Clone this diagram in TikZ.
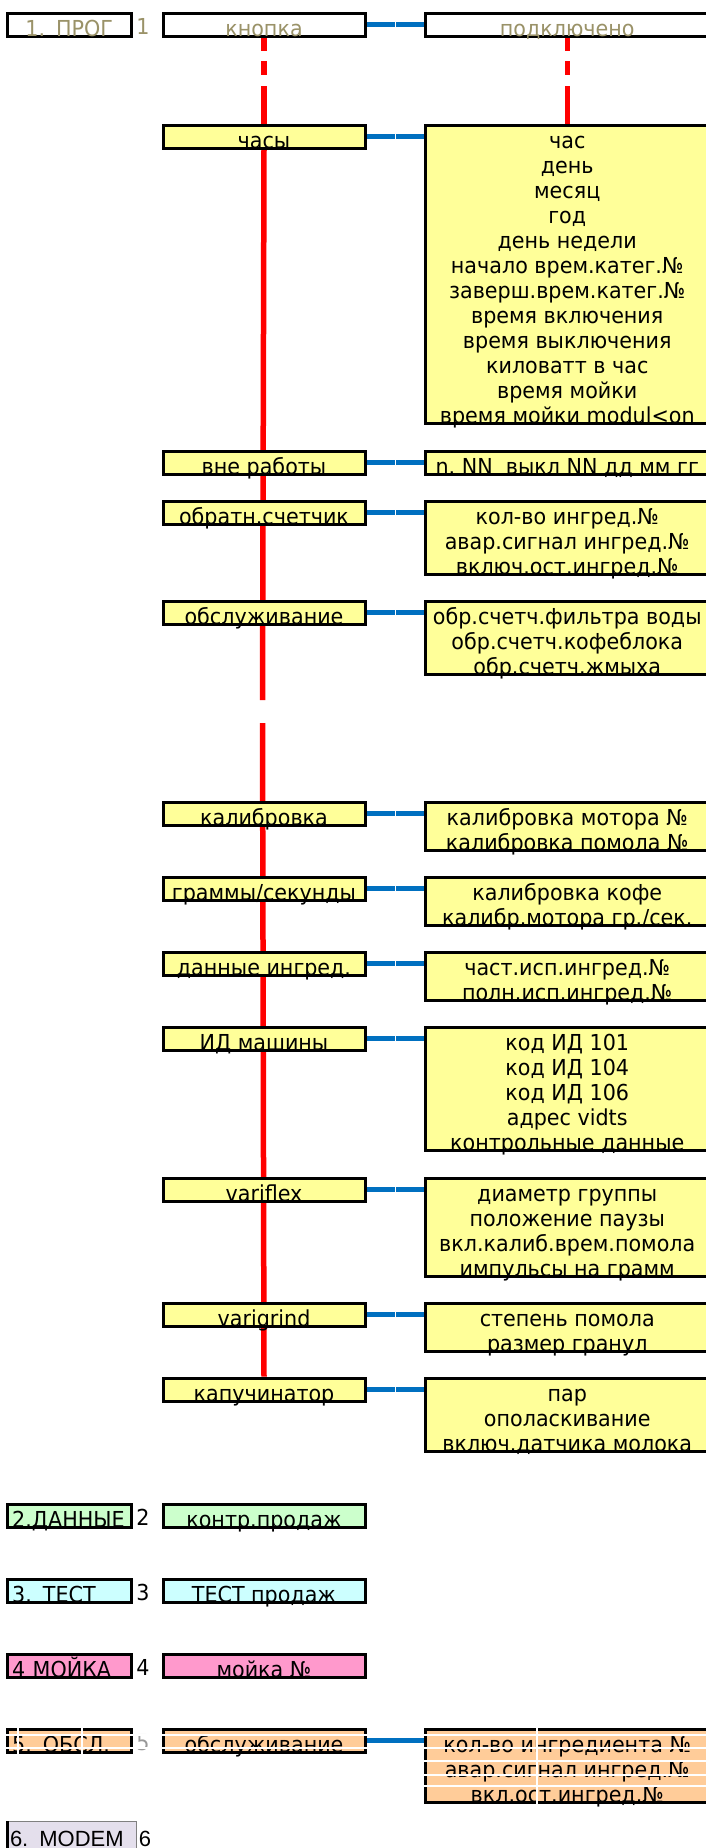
\documentclass[tikz,border=0pt]{standalone}
\usepackage{fontspec}
\setmainfont[FakeStretch=0.94]{DejaVu Sans}
\newfontfamily\modemfont{Liberation Sans}
\usepackage{tikz}
\usetikzlibrary{backgrounds, calc}
\definecolor{menuyellow}{HTML}{FFFF99}
\definecolor{dimtext}{HTML}{9A9268}
\definecolor{datagreen}{HTML}{CCFFCC}
\definecolor{testcyan}{HTML}{CCFFFF}
\definecolor{washpink}{HTML}{FF99CC}
\definecolor{servpeach}{HTML}{FFCC99}
\definecolor{modemlilac}{HTML}{E4DFEC}
\definecolor{linkblue}{HTML}{0070C0}
\definecolor{spinered}{HTML}{FF0000}
\newcommand\cellfont{\fontsize{22}{25}\selectfont}

\begin{document}
\begin{tikzpicture}[
    x=1pt, y=-1pt,
    cell/.style={rectangle, draw=black, line width=3pt, anchor=north west, inner xsep=0pt, inner ysep=0pt, text height=23pt, text depth=0pt, align=center, font=\cellfont},
    menu/.style={cell, minimum width=202pt, fill=menuyellow},
    info/.style={cell, minimum width=284.5pt, fill=menuyellow},
    mode/.style={cell, minimum width=124.5pt, text width=114pt, align=left},
    num/.style={anchor=base, inner sep=0pt, font=\cellfont},
    link/.style={draw=linkblue, line width=5pt, dash pattern=on 28pt off 1.5pt on 40pt},
    spine/.style={draw=spinered, line width=5.5pt},
    gridgap/.style={draw=white, line width=2pt},
]
    \useasboundingbox (0,0) rectangle (706,1848);

    % 1. PROG
    \node[mode, align=center, fill=white, text=dimtext] (prog) at (5.5,11.5) {1. ПРОГ};
    \node[num, text=dimtext] (n1) at (143,34.5) {1};
    \node[menu, fill=white, text=dimtext] (knopka) at (161.5,11.5) {кнопка};
    \node[info, fill=white, text=dimtext] (podkl) at (423.5,11.5) {подключено};

    \node[menu] (chasy) at (161.5,123.5) {часы};
    \node[info, text height=298pt] (chasyinfo) at (423.5,123.5) {час\\день\\месяц\\год\\день недели\\начало врем.катег.№\\заверш.врем.катег.№\\время включения\\время выключения\\киловатт в час\\время мойки\\время мойки modul<on};

    \node[menu] (vne) at (161.5,449.5) {вне работы};
    \node[info] (vneinfo) at (423.5,449.5) {n.\ NN\ \ выкл NN дд мм гг};

    \node[menu] (obrat) at (161.5,499.5) {обратн.счетчик};
    \node[info, text height=73pt] (obratinfo) at (423.5,499.5) {кол-во ингред.№\\авар.сигнал ингред.№\\включ.ост.ингред.№};

    \node[menu] (obsl) at (161.5,599.5) {обслуживание};
    \node[info, text height=73pt] (obslinfo) at (423.5,599.5) {обр.счетч.фильтра воды\\обр.счетч.кофеблока\\обр.счетч.жмыха};

    \node[menu] (kalib) at (161.5,800.5) {калибровка};
    \node[info, text height=48pt] (kalibinfo) at (423.5,800.5) {калибровка мотора №\\калибровка помола №};

    \node[menu] (gramm) at (161.5,875.5) {граммы/секунды};
    \node[info, text height=48pt] (gramminfo) at (423.5,875.5) {калибровка кофе\\калибр.мотора гр./сек.};

    \node[menu] (dannye) at (161.5,950.5) {данные ингред.};
    \node[info, text height=48pt] (dannyeinfo) at (423.5,950.5) {част.исп.ингред.№\\полн.исп.ингред.№};

    \node[menu] (idm) at (161.5,1025.5) {ИД машины};
    \node[info, text height=123pt] (idminfo) at (423.5,1025.5) {код ИД 101\\код ИД 104\\код ИД 106\\адрес vidts\\контрольные данные};

    \node[menu] (variflex) at (161.5,1176.5) {variflex};
    \node[info, text height=98pt] (variflexinfo) at (423.5,1176.5) {диаметр группы\\положение паузы\\вкл.калиб.врем.помола\\импульсы на грамм};

    \node[menu] (varigrind) at (161.5,1301.5) {varigrind};
    \node[info, text height=48pt] (varigrindinfo) at (423.5,1301.5) {степень помола\\размер гранул};

    \node[menu] (kapuch) at (161.5,1376.5) {капучинатор};
    \node[info, text height=73pt] (kapuchinfo) at (423.5,1376.5) {пар\\ополаскивание\\включ.датчика молока};

    % 2-6
    \node[mode, fill=datagreen] (dannyemode) at (5.5,1502.5) {2.ДАННЫЕ};
    \node[num] (n2) at (143,1525.5) {2};
    \node[menu, fill=datagreen] (kontr) at (161.5,1502.5) {контр.продаж};

    \node[mode, fill=testcyan] (testmode) at (5.5,1577.5) {3. ТЕСТ};
    \node[num] (n3) at (143,1600.5) {3};
    \node[menu, fill=testcyan] (test) at (161.5,1577.5) {ТЕСТ продаж};

    \node[mode, fill=washpink] (washmode) at (5.5,1652.5) {4 МОЙКА};
    \node[num] (n4) at (143,1675.5) {4};
    \node[menu, fill=washpink] (wash) at (161.5,1652.5) {мойка №};

    \node[mode, fill=servpeach] (servmode) at (5.5,1727.5) {5. ОБСЛ.};
    \node[num, text=black!40] (n5) at (143,1750.5) {5};
    \node[menu, fill=servpeach] (serv) at (161.5,1727.5) {обслуживание};
    \node[info, fill=servpeach, text height=73pt] (servinfo) at (423.5,1727.5) {кол-во ингредиента №\\авар.сигнал ингред.№\\вкл.ост.ингред.№};

    \node[cell, draw=black!50, line width=1pt, fill=modemlilac, minimum width=128pt, text width=124pt, align=left, text height=25pt, text depth=7pt, font=\modemfont\fontsize{22}{25}\selectfont] (modem) at (7.5,1821) {6. MODEM};
    \draw[line width=3pt] (modem.north west) -- (modem.south west);
    \node[num, font=\modemfont\fontsize{22}{25}\selectfont] (n6) at (145,1846) {6};

    % red spine behind the boxes
    \begin{scope}[on background layer]
        \coordinate (breakA) at (262.5,700);
        \coordinate (breakB) at (262.5,723);
        \draw[spine, dash pattern=on 13.5pt off 10pt on 14pt off 11pt on 100pt] (knopka.south) -- (chasy.north);
        \draw[spine, dash pattern=on 13.5pt off 10pt on 14pt off 11pt on 100pt] (podkl.south) -- (chasyinfo.north);
        \draw[spine] (chasy.south) -- (breakA);
        \draw[spine] (breakB) -- (kapuch.north);
    \end{scope}

    % blue links
    \foreach \a/\b in {knopka/podkl, chasy/chasyinfo, vne/vneinfo, obrat/obratinfo, obsl/obslinfo, kalib/kalibinfo, gramm/gramminfo, dannye/dannyeinfo, idm/idminfo, variflex/variflexinfo, varigrind/varigrindinfo, kapuch/kapuchinfo}
        \draw[link] (\a.east) -- (\a.east -| \b.west);
    \draw[link, solid] (serv.east) -- (serv.east -| servinfo.west);

    % white grid gaps over row 5
    \foreach \y in {1735,1748}
        \draw[gridgap] (4,\y) -- (367,\y);
    \foreach \y in {1735,1748,1761,1775,1786}
        \draw[gridgap] (421,\y) -- (706,\y);
    \foreach \x in {18,82}
        \draw[gridgap] (\x,1724) -- (\x,1755);
    \draw[gridgap] (537,1724) -- (537,1804);
\end{tikzpicture}
\end{document}
